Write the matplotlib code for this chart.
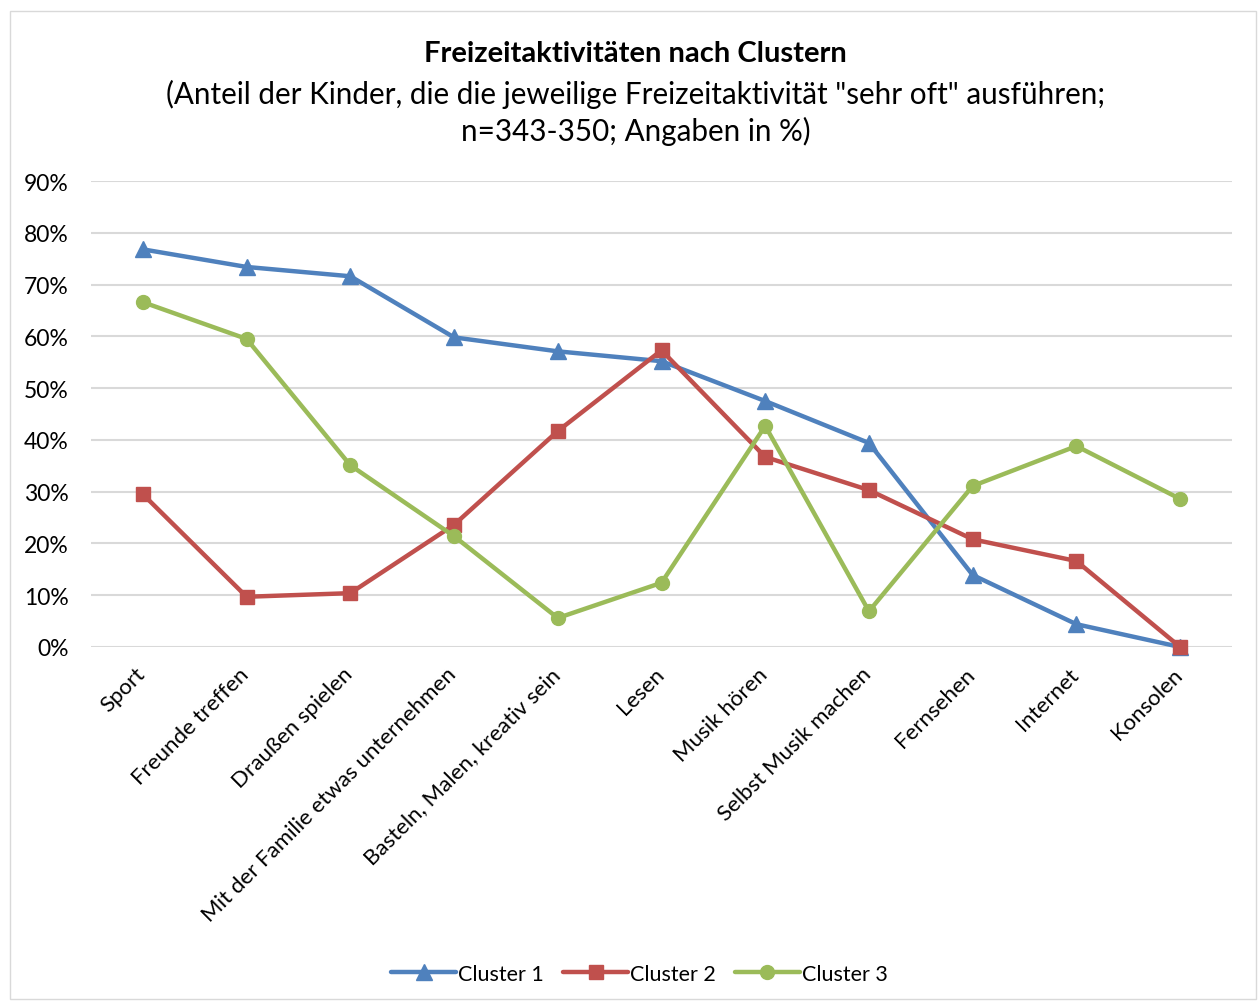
import matplotlib.pyplot as plt
import matplotlib.patches as patches
import matplotlib.transforms as mtransforms
from matplotlib.ticker import PercentFormatter

plt.rcParams['font.family'] = ['Lato', 'DejaVu Sans']

categories = ['Sport', 'Freunde treffen', 'Draußen spielen', 'Mit der Familie etwas unternehmen',
              'Basteln, Malen, kreativ sein', 'Lesen', 'Musik hören', 'Selbst Musik machen',
              'Fernsehen', 'Internet', 'Konsolen']
cluster1 = [76.8, 73.4, 71.6, 59.8, 57.1, 55.2, 47.5, 39.4, 13.9, 4.4, 0.0]
cluster2 = [29.5, 9.7, 10.4, 23.6, 41.7, 57.3, 36.7, 30.3, 20.8, 16.6, 0.0]
cluster3 = [66.6, 59.5, 35.1, 21.4, 5.6, 12.4, 42.7, 6.9, 31.1, 38.8, 28.6]
series_names = ['Cluster 1', 'Cluster 2', 'Cluster 3']
yticks = [0, 10, 20, 30, 40, 50, 60, 70, 80, 90]

fig = plt.figure(figsize=(12.59, 10.03), dpi=100)

# light chart border
fig.add_artist(patches.Rectangle((10 / 1259, 3 / 1003), 1246 / 1259, 988 / 1003,
                                 transform=fig.transFigure, fill=False,
                                 edgecolor='#d9d9d9', linewidth=1))

ax = fig.add_axes([91 / 1259, 1 - 648 / 1003, 1141 / 1259, 466 / 1003])

x = range(len(categories))
styles = [('#4f81bd', '^', 11), ('#c0504d', 's', 10), ('#9bbb59', 'o', 10)]
for vals, name, (col, mk, ms) in zip([cluster1, cluster2, cluster3], series_names, styles):
    ax.plot(x, vals, color=col, marker=mk, markersize=ms, linewidth=3.2,
            solid_capstyle='round', label=name, clip_on=False)

ax.set_xlim(-0.5, len(categories) - 0.5)
ax.set_ylim(0, 90)
ax.set_yticks(yticks)
ax.yaxis.set_major_formatter(PercentFormatter(decimals=0))
ax.grid(axis='y', color='#d9d9d9', linewidth=1.5)
ax.set_axisbelow(True)
for s in ax.spines.values():
    s.set_visible(False)
ax.tick_params(axis='y', length=0, labelsize=16.5, pad=16)
ax.tick_params(axis='x', length=0, labelsize=16, pad=12)
ax.set_xticks(list(x))
ax.set_xticklabels(categories, rotation=45, ha='right', rotation_mode='anchor')

# nudge category labels a little to the left
shift = mtransforms.ScaledTranslation(-8 / 100, 0, fig.dpi_scale_trans)
for lbl in ax.get_xticklabels():
    lbl.set_transform(lbl.get_transform() + shift)

fig.text(0.505, 1 - 54 / 1003, 'Freizeitaktivitäten nach Clustern', ha='center', va='center',
         fontsize=21, fontweight='bold')
fig.text(0.505, 1 - 94 / 1003, '(Anteil der Kinder, die die jeweilige Freizeitaktivität "sehr oft" ausführen;',
         ha='center', va='center', fontsize=21.3)
fig.text(0.505, 1 - 131 / 1003, 'n=343-350; Angaben in %)', ha='center', va='center', fontsize=21.3)

fig.legend(loc='center', bbox_to_anchor=(0.508, 1 - 975 / 1003), ncol=3, frameon=False,
           fontsize=15.5, handlelength=3.0, handletextpad=0.1, columnspacing=0.9)

fig.savefig('out.png', dpi=100)
